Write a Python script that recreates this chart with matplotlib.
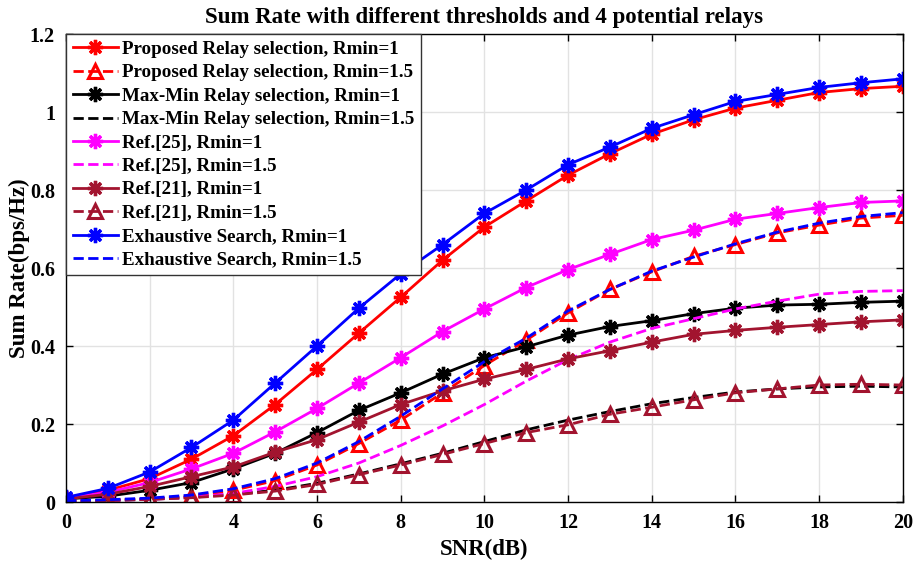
import matplotlib
matplotlib.use('Agg')
from matplotlib import pyplot as plt

plt.rcParams['font.family'] = ['Liberation Serif', 'DejaVu Serif']
plt.rcParams['font.weight'] = 'bold'

snr = list(range(0, 21))

proposed_r1 = [0.010, 0.030, 0.060, 0.110, 0.170, 0.250, 0.340, 0.433, 0.525, 0.620, 0.705,
               0.772, 0.838, 0.893, 0.943, 0.980, 1.010, 1.030, 1.050, 1.060, 1.066]
proposed_r15 = [0.003, 0.005, 0.008, 0.015, 0.030, 0.055, 0.095, 0.150, 0.210, 0.280, 0.350,
                0.415, 0.485, 0.545, 0.590, 0.630, 0.660, 0.690, 0.710, 0.728, 0.735]
maxmin_r1 = [0.008, 0.015, 0.030, 0.050, 0.085, 0.125, 0.178, 0.235, 0.280, 0.328, 0.370,
             0.398, 0.428, 0.450, 0.465, 0.483, 0.497, 0.505, 0.507, 0.512, 0.515]
maxmin_r15 = [0.002, 0.004, 0.007, 0.012, 0.020, 0.030, 0.048, 0.072, 0.098, 0.125, 0.155,
              0.185, 0.210, 0.232, 0.252, 0.268, 0.282, 0.290, 0.295, 0.297, 0.295]
ref25_r1 = [0.010, 0.025, 0.050, 0.085, 0.125, 0.180, 0.240, 0.305, 0.370, 0.437, 0.495,
            0.550, 0.596, 0.635, 0.673, 0.697, 0.725, 0.740, 0.755, 0.768, 0.772]
ref25_r15 = [0.002, 0.004, 0.007, 0.012, 0.022, 0.040, 0.065, 0.100, 0.145, 0.195, 0.250,
             0.310, 0.365, 0.410, 0.445, 0.470, 0.495, 0.515, 0.533, 0.540, 0.542]
ref21_r1 = [0.008, 0.020, 0.040, 0.065, 0.090, 0.128, 0.160, 0.205, 0.250, 0.285, 0.315,
            0.340, 0.367, 0.388, 0.410, 0.430, 0.440, 0.448, 0.455, 0.462, 0.467]
ref21_r15 = [0.002, 0.004, 0.007, 0.011, 0.018, 0.028, 0.045, 0.070, 0.095, 0.122, 0.150,
             0.178, 0.198, 0.225, 0.243, 0.262, 0.280, 0.290, 0.300, 0.302, 0.300]
exhaustive_r1 = [0.012, 0.035, 0.077, 0.140, 0.210, 0.305, 0.400, 0.497, 0.585, 0.660, 0.740,
                 0.800, 0.865, 0.910, 0.958, 0.993, 1.027, 1.045, 1.063, 1.075, 1.085]
exhaustive_r15 = [0.003, 0.006, 0.010, 0.018, 0.034, 0.060, 0.100, 0.155, 0.220, 0.290, 0.360,
                  0.420, 0.490, 0.545, 0.592, 0.628, 0.662, 0.692, 0.715, 0.732, 0.742]

maroon = '#A2142F'
star = (8, 2, 0)
star_kw = dict(marker=star, ms=11, mew=2.4)
tri_kw = dict(marker='^', ms=10, mew=2.2, mfc='none')

fig = plt.figure(figsize=(9.23, 5.63), dpi=100)
ax = fig.add_axes([0.0715, 0.1083, 0.9065, 0.8313])

ax.plot(snr, proposed_r1, '-', color='red', lw=2, **star_kw,
        label='Proposed Relay selection, Rmin=1')
ax.plot(snr, proposed_r15, '--', color='red', lw=2, **tri_kw,
        label='Proposed Relay selection, Rmin=1.5')
ax.plot(snr, maxmin_r1, '-', color='black', lw=2, **star_kw,
        label='Max-Min Relay selection, Rmin=1')
ax.plot(snr, maxmin_r15, '--', color='black', lw=2,
        label='Max-Min Relay selection, Rmin=1.5')
ax.plot(snr, ref25_r1, '-', color='magenta', lw=2, **star_kw,
        label='Ref.[25], Rmin=1')
ax.plot(snr, ref25_r15, '--', color='magenta', lw=2, label='Ref.[25], Rmin=1.5')
ax.plot(snr, ref21_r1, '-', color=maroon, lw=2, **star_kw,
        label='Ref.[21], Rmin=1')
ax.plot(snr, ref21_r15, '--', color=maroon, lw=2, **tri_kw,
        label='Ref.[21], Rmin=1.5')
ax.plot(snr, exhaustive_r1, '-', color='blue', lw=2, **star_kw,
        label='Exhaustive Search, Rmin=1')
ax.plot(snr, exhaustive_r15, '--', color='blue', lw=2,
        label='Exhaustive Search, Rmin=1.5')

ax.set_xlim(0, 20)
ax.set_ylim(0, 1.2)
ax.set_xticks(range(0, 21, 2))
ax.set_yticks([0, 0.2, 0.4, 0.6, 0.8, 1, 1.2])
ax.set_yticklabels(['0', '0.2', '0.4', '0.6', '0.8', '1', '1.2'])
ax.tick_params(direction='in', labelsize=14.5, width=1, length=5, top=True, right=True)
ax.tick_params(axis='x', pad=8)
ax.tick_params(axis='y', pad=8)
ax.grid(True, color='#e2e2e2', lw=1)
ax.set_axisbelow(True)
for s in ax.spines.values():
    s.set_linewidth(1)

ax.set_xlabel('SNR(dB)', fontsize=16.5, fontweight='bold', labelpad=4)
ax.set_ylabel('Sum Rate(bps/Hz)', fontsize=16.5, fontweight='bold', labelpad=0)
ax.set_title('Sum Rate with different thresholds and 4 potential relays',
             fontsize=16.5, fontweight='bold', pad=8)

leg = ax.legend(loc='upper left', fontsize=13.7, frameon=True, fancybox=False,
                edgecolor='#333333', framealpha=1, handlelength=2.4,
                borderaxespad=0.0, labelspacing=0.32, handletextpad=0.2,
                borderpad=0.35)
leg.get_frame().set_linewidth(1)

fig.savefig('out.png', dpi=100)
